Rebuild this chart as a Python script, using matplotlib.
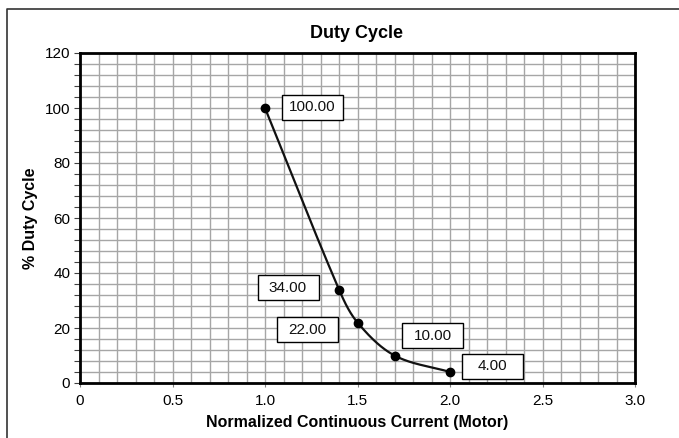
import numpy as np
import matplotlib
matplotlib.use("Agg")
import matplotlib.pyplot as plt
import matplotlib.transforms as mtransforms
from matplotlib.patches import Rectangle
from matplotlib.lines import Line2D

plt.rcParams['font.family'] = ['Liberation Sans', 'DejaVu Sans']

# ---- data ----
current = [1.0, 1.4, 1.5, 1.7, 2.0]
duty = [100.0, 34.0, 22.0, 10.0, 4.0]
labels = ["100.00", "34.00", "22.00", "10.00", "4.00"]
x_ticks = [0, 0.5, 1.0, 1.5, 2.0, 2.5, 3.0]
x_tick_labels = ["0", "0.5", "1.0", "1.5", "2.0", "2.5", "3.0"]
y_ticks = [0, 20, 40, 60, 80, 100, 120]
title = "Duty Cycle"
xlabel = "Normalized Continuous Current (Motor)"
ylabel = "% Duty Cycle"
# label box offsets from points, in pixels (dx, dy)
label_offsets = [(47, 1), (-51, 2), (-50, -7), (38, 20), (42, 6)]

W, H = 679, 438
fig = plt.figure(figsize=(W / 100, H / 100), dpi=100)
L, R, T, B = 80, 635, 53, 383
ax = fig.add_axes([L / W, 1 - B / H, (R - L) / W, (B - T) / H])

ax.set_xlim(0, 3)
ax.set_ylim(0, 120)

# grid
ax.set_xticks(np.arange(0, 3.0001, 0.1), minor=True)
ax.set_yticks(np.arange(0, 120.001, 4), minor=True)
ax.grid(which='minor', color='#a6a6a6', linewidth=1.0)
ax.grid(which='major', color='#a6a6a6', linewidth=1.0)
ax.set_axisbelow(True)

ax.set_xticks(x_ticks)
ax.set_xticklabels(x_tick_labels)
ax.set_yticks(y_ticks)
ax.tick_params(axis='x', which='major', direction='out', length=3, width=0.8,
               color='#808080', pad=5, labelsize=11)
ax.tick_params(axis='x', which='minor', length=0)
ax.tick_params(axis='y', which='both', direction='out', length=4, width=0.8,
               color='#404040', pad=3, labelsize=11)

for s in ax.spines.values():
    s.set_linewidth(2.0)
    s.set_color('black')

# smoothed line (Hermite spline in pixel space, tangents scaled by segment length)
sx = (R - L) / 3.0
sy = (B - T) / 120.0
P = np.column_stack([np.array(current) * sx, np.array(duty) * sy])
n = len(P)
dirs = []
for k in range(n):
    a = P[max(k - 1, 0)]
    b = P[min(k + 1, n - 1)]
    d = b - a
    dirs.append(d / np.linalg.norm(d))
pts = []
t = np.linspace(0, 1, 80)
h00 = 2 * t**3 - 3 * t**2 + 1
h10 = t**3 - 2 * t**2 + t
h01 = -2 * t**3 + 3 * t**2
h11 = t**3 - t**2
for k in range(n - 1):
    p1, p2 = P[k], P[k + 1]
    seglen = np.linalg.norm(p2 - p1)
    m1 = dirs[k] * seglen
    m2 = dirs[k + 1] * seglen
    seg = (h00[:, None] * p1 + h10[:, None] * m1 + h01[:, None] * p2 + h11[:, None] * m2)
    pts.append(seg)
curve = np.vstack(pts)
ax.plot(curve[:, 0] / sx, curve[:, 1] / sy, color='#111111', linewidth=1.6, zorder=3,
        clip_on=False)
ax.plot(current, duty, 'o', color='black', markersize=6, zorder=4, clip_on=False)

# label boxes
bw, bh = 61, 25
for xv, yv, lab, (dx, dy) in zip(current, duty, labels, label_offsets):
    tr = mtransforms.Affine2D().translate(dx, dy) + mtransforms.ScaledTranslation(xv, yv, ax.transData)
    rect = Rectangle((-bw / 2, -bh / 2), bw, bh, transform=tr, facecolor='white',
                     edgecolor='black', linewidth=1.0, zorder=5, clip_on=False)
    ax.add_artist(rect)
    ax.annotate(lab, (xv, yv), xytext=(dx, dy), textcoords='offset pixels',
                ha='center', va='center', fontsize=11, zorder=6, color='#111111')

# titles
fig.text(357 / W, 1 - 33 / H, title, ha='center', va='center', fontsize=13, fontweight='bold')
fig.text(357 / W, 1 - 422 / H, xlabel, ha='center', va='center', fontsize=11.5, fontweight='bold')
fig.text(31 / W, 1 - 218 / H, ylabel, ha='center', va='center', fontsize=11.5, fontweight='bold',
         rotation=90)

# outer frame (top & left edges)
fig.add_artist(Line2D([7 / W, 7 / W, 1.0], [0.0, 1 - 9 / H, 1 - 9 / H],
                      transform=fig.transFigure, color='#333333', linewidth=1.2))

fig.savefig("out.png", dpi=100)
